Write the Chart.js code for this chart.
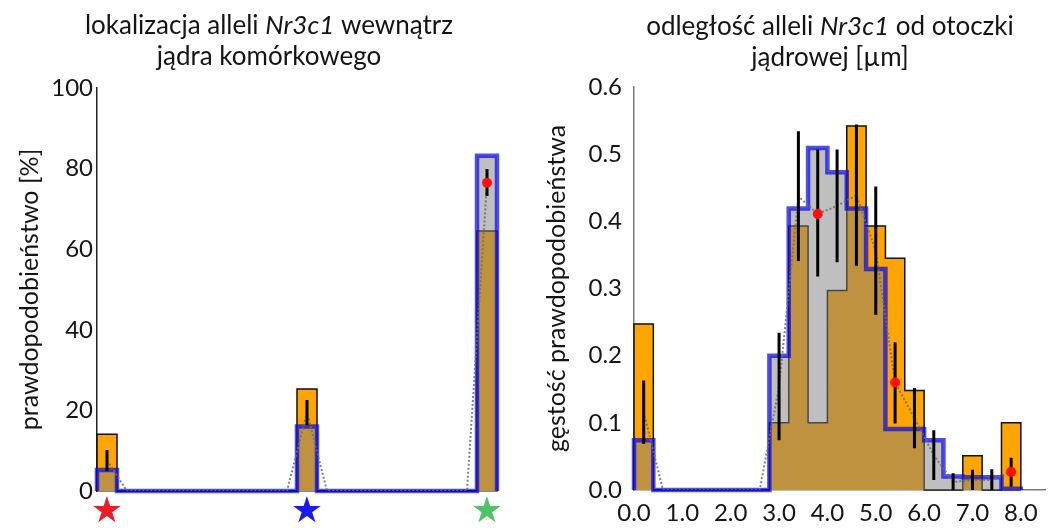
<!DOCTYPE html>
<html>
<head>
<meta charset="utf-8">
<script src="https://cdn.jsdelivr.net/npm/chart.js@4.4.1/dist/chart.umd.min.js"></script>
<style>
  html, body { margin: 0; padding: 0; background: #fff; }
  #wrap { position: relative; width: 1050px; height: 530px; }
  canvas { position: absolute; top: 0; }
  #left { left: 0; }
  #right { left: 525px; }
</style>
</head>
<body>
<div id="wrap">
  <canvas id="left" width="525" height="530"></canvas>
  <canvas id="right" width="525" height="530"></canvas>
</div>
<script>
// left panel: 20 position bins, only three of them are populated (one per star)
const leftObserved  = [14.1, 0, 0, 0, 0, 0, 0, 0, 0, 0, 25.3, 0, 0, 0, 0, 0, 0, 0, 0, 64.5]
const leftSimulated = [5.2, 0, 0, 0, 0, 0, 0, 0, 0, 0, 16.0, 0, 0, 0, 0, 0, 0, 0, 0, 83.2]
const leftMean      = [7.6, 0, 0, 0, 0, 0, 0, 0, 0, 0, 19.5, 0, 0, 0, 0, 0, 0, 0, 0, 76.5]
const leftErrLow    = [5.0, null, null, null, null, null, null, null, null, null, 16.3, null, null, null, null, null, null, null, null, 73.2]
const leftErrHigh   = [10.2, null, null, null, null, null, null, null, null, null, 22.6, null, null, null, null, null, null, null, null, 79.9]
const leftMarked = [19]
const leftTicksY = [0, 20, 40, 60, 80, 100]
const starColors = ['#ee1c24', '#1a1af0', '#4fc466']

// right panel: distance from nuclear envelope, bins of 0.4 um
const binWidth = 0.4
const rightObserved  = [0.247, 0, 0, 0, 0, 0, 0, 0.100, 0.393, 0.100, 0.297, 0.542, 0.393, 0.345, 0.148, 0, 0, 0.051, 0, 0.100]
const rightSimulated = [0.074, 0, 0, 0, 0, 0, 0, 0.200, 0.419, 0.509, 0.473, 0.419, 0.329, 0.091, 0.091, 0.074, 0.020, 0.019, 0.019, 0.002]
const rightMean      = [0.116, 0, 0, 0, 0, 0, 0, 0.154, 0.437, 0.411, 0.423, 0.439, 0.356, 0.160, 0.107, 0.052, 0.012, 0.015, 0.015, 0.027]
const rightErrLow    = [0.069, null, null, null, null, null, null, 0.074, 0.341, 0.318, 0.339, 0.334, 0.261, 0.099, 0.062, 0.015, 0.0, 0.0, 0.0, 0.005]
const rightErrHigh   = [0.163, null, null, null, null, null, null, 0.234, 0.534, 0.507, 0.507, 0.544, 0.452, 0.220, 0.152, 0.089, 0.025, 0.030, 0.031, 0.048]
const rightMarked = [9, 13, 19]
const rightTicksX = [0, 1, 2, 3, 4, 5, 6, 7, 8]
const rightTicksY = [0, 0.1, 0.2, 0.3, 0.4, 0.5, 0.6]

const FONT = 'Lato'
const TXT = '#141414'

// histogram outline as a stepped line: up at first edge, down at last edge
function stepPoints(vals, w) {
  const pts = [{x: 0, y: 0}]
  vals.forEach((v, i) => pts.push({x: i * w, y: v}))
  pts.push({x: vals.length * w, y: 0})
  return pts
}
function centerPoints(vals, w) {
  return vals.map((v, i) => ({x: (i + 0.5) * w, y: v}))
}
function errPoints(lo, hi, w) {
  const pts = []
  lo.forEach((l, i) => {
    if (l === null) return
    const x = (i + 0.5) * w
    pts.push({x: x, y: l}, {x: x, y: hi[i]}, {x: x, y: null})
  })
  return pts
}
function markPoints(idx, vals, w) {
  return idx.map(i => ({x: (i + 0.5) * w, y: vals[i]}))
}

function buildDatasets(obs, sim, mean, lo, hi, marked, w) {
  return [
    {data: markPoints(marked, mean, w), showLine: false, pointRadius: 5, pointBackgroundColor: '#ff1010',
     pointBorderWidth: 0, order: 1},
    {data: errPoints(lo, hi, w), borderColor: '#000', borderWidth: 3, pointRadius: 0, spanGaps: false, order: 2},
    {data: centerPoints(mean, w), borderColor: 'rgba(110,110,110,0.85)', borderWidth: 2, borderDash: [2, 2],
     pointRadius: 0, order: 3},
    {data: stepPoints(sim, w), stepped: 'before', fill: 'origin', backgroundColor: 'rgba(128,128,128,0.5)',
     borderColor: 'rgba(10,10,230,0.72)', borderWidth: 4.5, pointRadius: 0, clip: false, order: 4},
    {data: stepPoints(obs, w), stepped: 'before', fill: 'origin', backgroundColor: '#ffa500',
     borderColor: '#111', borderWidth: 1.5, pointRadius: 0, clip: false, order: 5}
  ]
}

// title with an italic gene name in the middle
const mixedTitle = {
  id: 'mixedTitle',
  afterDraw(chart, args, opts) {
    const ctx = chart.ctx
    ctx.save()
    ctx.fillStyle = TXT
    ctx.textBaseline = 'alphabetic'
    opts.lines.forEach((line, li) => {
      let w = 0
      line.forEach(([t, it]) => {
        ctx.font = (it ? 'italic ' : '') + opts.size + 'px ' + FONT
        w += ctx.measureText(t).width
      })
      let x = opts.cx - w / 2
      line.forEach(([t, it]) => {
        ctx.font = (it ? 'italic ' : '') + opts.size + 'px ' + FONT
        ctx.fillText(t, x, opts.y0 + li * opts.lh)
        x += ctx.measureText(t).width
      })
    })
    ctx.restore()
  }
}

const starBins = leftObserved.map((v, i) => v > 0 ? i : -1).filter(i => i >= 0)

new Chart(document.getElementById('left'), {
  type: 'line',
  data: {datasets: buildDatasets(leftObserved, leftSimulated, leftMean, leftErrLow, leftErrHigh, leftMarked, 1)},
  plugins: [mixedTitle],
  options: {
    responsive: false,
    animation: false,
    events: [],
    layout: {padding: {top: 88, right: 28, left: 0, bottom: 0}},
    plugins: {
      legend: {display: false},
      tooltip: {enabled: false},
      mixedTitle: {
        cx: 269, y0: 34, lh: 31, size: 26,
        lines: [[['lokalizacja alleli ', false], ['Nr3c1', true], [' wewnątrz', false]],
                [['jądra komórkowego', false]]]
      }
    },
    scales: {
      x: {
        type: 'linear', min: 0, max: leftObserved.length,
        grid: {display: false, drawTicks: false},
        border: {display: true, color: '#111', width: 1.5},
        afterBuildTicks: s => { s.ticks = starBins.map(b => ({value: b + 0.5})) },
        afterFit: s => { s.height = 39 },
        ticks: {
          autoSkip: false, maxRotation: 0, padding: 0,
          callback: () => '★',
          color: c => starColors[c.index],
          font: {family: 'DejaVu Sans', size: 36}
        }
      },
      y: {
        min: 0, max: 100,
        grid: {display: false, drawTicks: false},
        border: {display: true, color: '#222', width: 1.5},
        afterBuildTicks: s => { s.ticks = leftTicksY.map(v => ({value: v})) },
        afterFit: s => { s.width = 97 },
        ticks: {padding: 4, color: TXT, font: {family: FONT, size: 24}},
        title: {display: true, text: 'prawdopodobieństwo [%]', color: TXT,
                font: {family: FONT, size: 25}, padding: {top: 15, bottom: 0}}
      }
    }
  }
})

new Chart(document.getElementById('right'), {
  type: 'line',
  data: {datasets: buildDatasets(rightObserved, rightSimulated, rightMean, rightErrLow, rightErrHigh, rightMarked, binWidth)},
  plugins: [mixedTitle],
  options: {
    responsive: false,
    animation: false,
    events: [],
    layout: {padding: {top: 87, right: 5, left: 0, bottom: 0}},
    plugins: {
      legend: {display: false},
      tooltip: {enabled: false},
      mixedTitle: {
        cx: 305, y0: 35, lh: 31, size: 26,
        lines: [[['odległość alleli ', false], ['Nr3c1', true], [' od otoczki', false]],
                [['jądrowej [µm]', false]]]
      }
    },
    scales: {
      x: {
        type: 'linear', min: 0, max: 8.5,
        grid: {display: false, drawTicks: false},
        border: {display: true, color: '#7a7a7a', width: 1.5},
        afterBuildTicks: s => { s.ticks = rightTicksX.map(v => ({value: v})) },
        afterFit: s => { s.height = 40 },
        ticks: {autoSkip: false, maxRotation: 0, padding: 9, color: TXT,
                font: {family: FONT, size: 24}, callback: v => Number(v).toFixed(1)}
      },
      y: {
        min: 0, max: 0.6,
        grid: {display: false, drawTicks: false},
        border: {display: true, color: '#7a7a7a', width: 1.5},
        afterBuildTicks: s => { s.ticks = rightTicksY.map(v => ({value: v})) },
        afterFit: s => { s.width = 109 },
        ticks: {padding: 12, color: TXT, font: {family: FONT, size: 24},
                callback: v => Number(v).toFixed(1)},
        title: {display: true, text: 'gęstość prawdopodobieństwa', color: TXT,
                font: {family: FONT, size: 25}, padding: {top: 17, bottom: 0}}
      }
    }
  }
})
</script>
</body>
</html>
